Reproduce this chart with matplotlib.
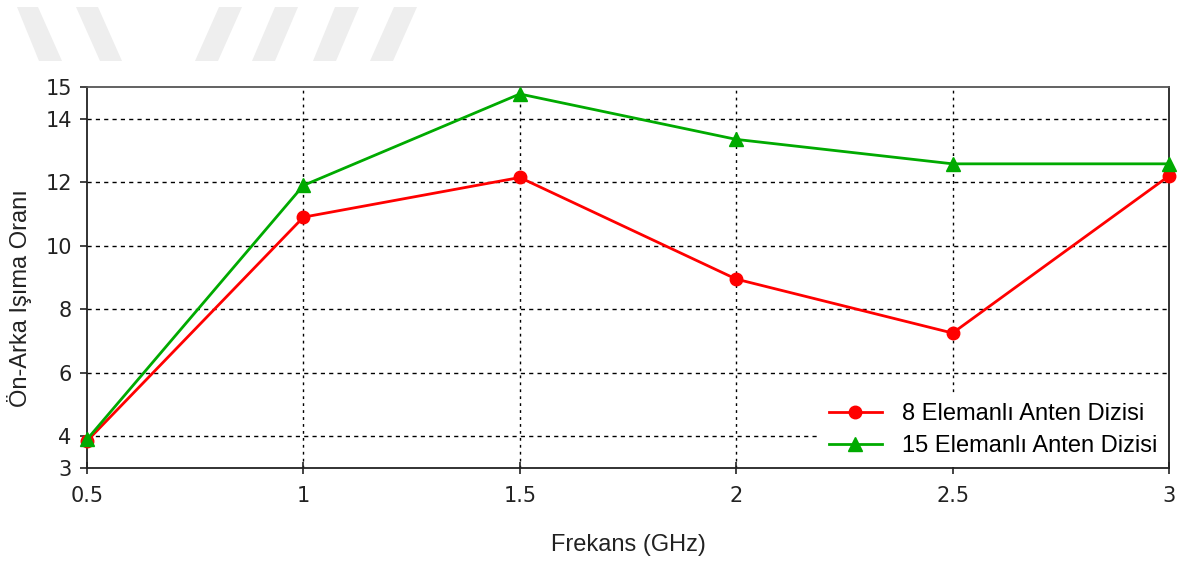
import matplotlib
matplotlib.use("Agg")
import matplotlib.pyplot as plt
from matplotlib.patches import Polygon

plt.rcParams['font.family'] = ['DejaVu Sans']

freq = [0.5, 1.0, 1.5, 2.0, 2.5, 3.0]
ratio_8 = [3.85, 10.9, 12.15, 8.95, 7.25, 12.2]
ratio_15 = [3.9, 11.9, 14.78, 13.35, 12.58, 12.58]
label_8 = "8 Elemanlı Anten Dizisi"
label_15 = "15 Elemanlı Anten Dizisi"
x_ticks = [0.5, 1, 1.5, 2, 2.5, 3]
x_ticklabels = ["0.5", "1", "1.5", "2", "2.5", "3"]
y_ticks = [3, 4, 6, 8, 10, 12, 14, 15]

W, H = 1190, 562
fig = plt.figure(figsize=(W / 100, H / 100), dpi=100)

# faint diagonal band decoration along the top edge
bands = [
    [(17, 7), (38, 7), (62, 61), (39, 61)],
    [(76, 7), (98, 7), (122, 61), (100, 61)],
    [(219, 7), (242, 7), (218, 61), (195, 61)],
    [(275, 7), (298, 7), (275, 61), (252, 61)],
    [(335, 7), (359, 7), (336, 61), (313, 61)],
    [(394, 7), (417, 7), (393, 61), (370, 61)],
]
for b in bands:
    pts = [(x / W, 1 - y / H) for x, y in b]
    fig.patches.append(Polygon(pts, closed=True, transform=fig.transFigure,
                               facecolor="#eeeeee", edgecolor="none", zorder=0))

ax = fig.add_axes([87 / W, 1 - 468 / H, (1169 - 87) / W, (468 - 87) / H])

ax.plot(freq, ratio_8, color="#ff0000", lw=2.0, marker="o", ms=9,
        label=label_8, zorder=4, clip_on=False)
ax.plot(freq, ratio_15, color="#00aa00", lw=2.0, marker="^", ms=10,
        label=label_15, zorder=5, clip_on=False)

ax.set_xlim(0.5, 3.0)
ax.set_ylim(3, 15)
ax.set_xticks(x_ticks)
ax.set_xticklabels(x_ticklabels)
ax.set_yticks(y_ticks)

for y in [4, 6, 8, 10, 12, 14]:
    ax.axhline(y, color="black", lw=1.0, ls=(0, (3, 3)), zorder=1)
for x in [1, 1.5, 2, 2.5]:
    ax.axvline(x, color="black", lw=1.0, ls=(0, (2, 3)), zorder=1)

for s in ["left", "right", "bottom"]:
    ax.spines[s].set_color("#222222")
    ax.spines[s].set_linewidth(1.3)
ax.spines["top"].set_color("#555555")
ax.spines["top"].set_linewidth(1.3)

ax.tick_params(axis="y", direction="out", length=5, width=1.2, pad=6,
               labelsize=15, colors="#222222")
ax.tick_params(axis="x", direction="inout", length=8, width=1.2, pad=9,
               labelsize=15, colors="#222222")

label_font = dict(family="Liberation Sans", size=17, color="#222222")
ax.set_xlabel("Frekans (GHz)", **label_font)
ax.set_ylabel("Ön-Arka Işıma Oranı", **label_font)
ax.xaxis.set_label_coords(0.5, -(545 - 468) / 381, transform=ax.transAxes)
ax.xaxis.label.set_va("center")
ax.yaxis.set_label_coords(-(87 - 20) / 1082, (468 - 298) / 381)
ax.yaxis.label.set_va("center")

leg = ax.legend(loc="lower right", bbox_to_anchor=(0.998, 0.003), frameon=True,
                prop=dict(family="Liberation Sans", size=17),
                handlelength=2.25, handletextpad=0.85,
                borderaxespad=0.0, labelspacing=0.45)
leg.get_frame().set_edgecolor("none")
leg.get_frame().set_facecolor("white")
leg.get_frame().set_alpha(1.0)
# legend box sits above the grid but under the axis frame
leg.set_zorder(2)

fig.savefig("out.png", dpi=100)
